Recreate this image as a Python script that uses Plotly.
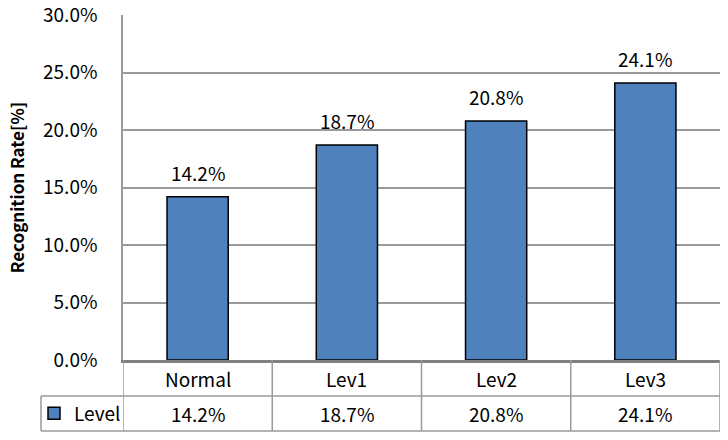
import plotly.graph_objects as go

categories = ['Normal', 'Lev1', 'Lev2', 'Lev3']
rates = [14.2, 18.7, 20.8, 24.1]
series_name = 'Level'
y_ticks = [0, 5, 10, 15, 20, 25, 30]

FONT = 'Noto Sans CJK KR'
GRID = '#9a9a9a'
BAR = '#4f81bd'
FS = 19

W, H = 728, 440
ML, MR, MT, MB = 123, 8, 15, 80
plot_w = W - ML - MR
plot_h = H - MT - MB

# table rows below the plot, in paper coords
row1 = -36 / plot_h
row2 = -71 / plot_h
legend_left = -82 / plot_w

fig = go.Figure()
fig.add_trace(go.Bar(
    x=categories,
    y=rates,
    name=series_name,
    width=0.41,
    marker=dict(color=BAR, line=dict(color='black', width=1.5)),
    showlegend=True,
))

fig.update_layout(
    width=W, height=H,
    margin=dict(l=ML, r=MR, t=MT, b=MB, autoexpand=False),
    plot_bgcolor='white',
    paper_bgcolor='white',
    font=dict(family=FONT, size=FS, color='black'),
    bargap=0.59,
    legend=dict(x=-89 / plot_w, y=(row1 + row2) / 2, xanchor='left', yanchor='middle',
                font=dict(size=FS), bgcolor='rgba(0,0,0,0)', itemwidth=30,
                tracegroupgap=0),
)

fig.update_yaxes(
    range=[0, 30.02],
    tickvals=y_ticks,
    ticktext=[f'{v:.1f}%' for v in y_ticks],
    showgrid=True, gridcolor=GRID, gridwidth=1.5,
    zeroline=False,
    showline=True, linecolor=GRID, linewidth=1.5,
    ticks='', ticklen=0,
    ticklabelstandoff=20,
    ticklabeloverflow='allow',
    tickfont=dict(size=FS),
    automargin=False,
    title=dict(text='<b>Recognition Rate[%]</b>', font=dict(size=17), standoff=14),
)
fig.update_xaxes(
    range=[-0.5, 3.5],
    showticklabels=False,
    showgrid=False, zeroline=False,
    showline=True, linecolor='#808080', linewidth=2.5,
    ticks='',
    automargin=False,
)

shapes = []
line_style = dict(color=GRID, width=1.5)
# horizontal lines of the data table
shapes.append(dict(type='line', xref='x', yref='paper', x0=-0.5, x1=3.5, y0=row1, y1=row1, line=line_style))
shapes.append(dict(type='line', xref='paper', yref='paper', x0=legend_left, x1=1, y0=row2, y1=row2, line=line_style))
shapes.append(dict(type='line', xref='paper', yref='paper', x0=legend_left, x1=0, y0=row1, y1=row1, line=line_style))
# vertical lines between categories
for i in range(len(categories) + 1):
    shapes.append(dict(type='line', xref='x', yref='paper', x0=i - 0.5, x1=i - 0.5, y0=0, y1=row2, line=line_style))
shapes.append(dict(type='line', xref='paper', yref='paper', x0=legend_left, x1=legend_left, y0=row1, y1=row2, line=line_style))

annotations = []
for c, v in zip(categories, rates):
    # value label above each bar
    annotations.append(dict(x=c, xref='x', y=v, yref='y', text=f'{v:.1f}%', showarrow=False,
                            font=dict(size=FS), yanchor='bottom', yshift=9))
    annotations.append(dict(x=c, xref='x', y=row1 / 2, yref='paper', text=c, showarrow=False,
                            font=dict(size=FS), yanchor='middle'))
    annotations.append(dict(x=c, xref='x', y=(row1 + row2) / 2, yref='paper', text=f'{v:.1f}%',
                            showarrow=False, font=dict(size=FS), yanchor='middle'))

fig.update_layout(shapes=shapes, annotations=annotations)

fig.write_html('out.html', config={'displayModeBar': False},
               post_script="document.body.style.margin='0';")
